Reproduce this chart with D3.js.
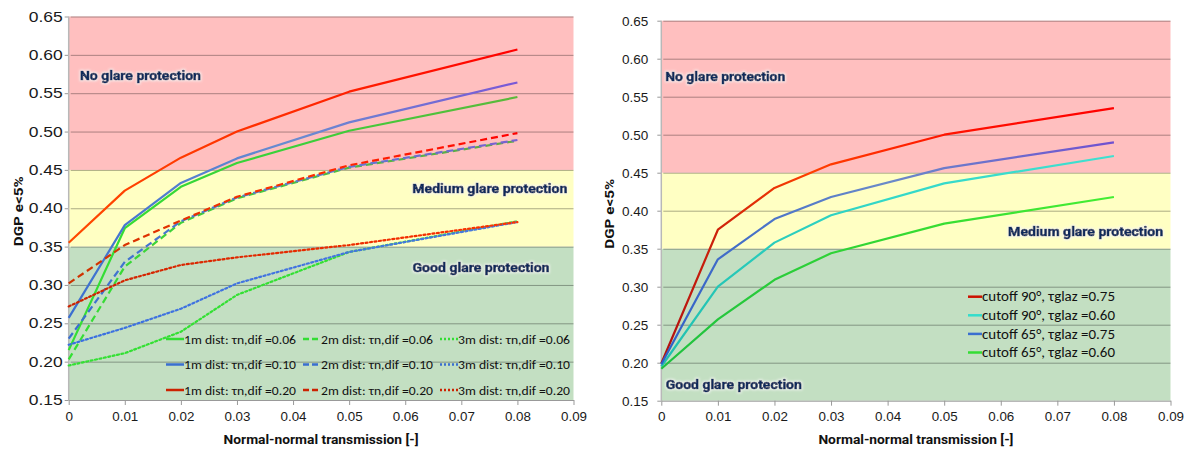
<!DOCTYPE html>
<html>
<head>
<meta charset="utf-8">
<script src="https://d3js.org/d3.v7.min.js"></script>
<style>
  body { margin: 0; background: #fff; }
  svg { display: block; font-family: Carlito, Lato, "Liberation Sans", sans-serif; }
  .tick text { fill: #1a1a1a; }
  .bold { font-family: Roboto, "Liberation Sans", sans-serif; font-weight: bold; }
</style>
</head>
<body>
<svg id="chart" width="1188" height="450"></svg>
<script>
// x values shared by every series
const xValues = [0, 0.01, 0.02, 0.03, 0.05, 0.08];
const xTicks = [0, 0.01, 0.02, 0.03, 0.04, 0.05, 0.06, 0.07, 0.08, 0.09];
const yTicks = [0.15, 0.20, 0.25, 0.30, 0.35, 0.40, 0.45, 0.50, 0.55, 0.60, 0.65];

// zones: bottom edge / top edge
const zoneBounds = [0.15, 0.35, 0.45, 0.65];
const zoneNames = ["Good glare protection", "Medium glare protection", "No glare protection"];

// left chart: distance / tau n,dif
const leftNames = [
  "1m dist: τn,dif =0.06", "2m dist: τn,dif =0.06", "3m dist: τn,dif =0.06",
  "1m dist: τn,dif =0.10", "2m dist: τn,dif =0.10", "3m dist: τn,dif =0.10",
  "1m dist: τn,dif =0.20", "2m dist: τn,dif =0.20", "3m dist: τn,dif =0.20"
];
const dist1m_006 = [0.215, 0.374, 0.428, 0.459, 0.501, 0.545];
const dist2m_006 = [0.203, 0.324, 0.381, 0.413, 0.453, 0.488];
const dist3m_006 = [0.195, 0.211, 0.239, 0.287, 0.343, 0.383];
const dist1m_010 = [0.257, 0.378, 0.433, 0.465, 0.512, 0.564];
const dist2m_010 = [0.230, 0.330, 0.383, 0.414, 0.454, 0.489];
const dist3m_010 = [0.222, 0.244, 0.269, 0.302, 0.343, 0.382];
const dist1m_020 = [0.355, 0.423, 0.466, 0.500, 0.552, 0.607];
const dist2m_020 = [0.302, 0.352, 0.384, 0.415, 0.456, 0.498];
const dist3m_020 = [0.272, 0.306, 0.326, 0.336, 0.352, 0.382];

// right chart: cutoff angle / tau glazing
const rightNames = [
  "cutoff 90°, τglaz =0.75", "cutoff 90°, τglaz =0.60",
  "cutoff 65°, τglaz =0.75", "cutoff 65°, τglaz =0.60"
];
const cut90_075 = [0.199, 0.375, 0.430, 0.461, 0.500, 0.535];
const cut90_060 = [0.195, 0.300, 0.358, 0.394, 0.436, 0.472];
const cut65_075 = [0.198, 0.336, 0.389, 0.418, 0.456, 0.490];
const cut65_060 = [0.192, 0.257, 0.309, 0.344, 0.383, 0.418];

const svg = d3.select("#chart");
const defs = svg.append("defs");

// soft light glow behind the zone labels
const glow = defs.append("filter").attr("id", "glow")
  .attr("x", "-10%").attr("y", "-40%").attr("width", "120%").attr("height", "180%");
glow.append("feMorphology").attr("in", "SourceAlpha").attr("operator", "dilate").attr("radius", 1).attr("result", "d");
glow.append("feGaussianBlur").attr("in", "d").attr("stdDeviation", 1.1).attr("result", "b");
glow.append("feFlood").attr("flood-color", "#f4f4f4").attr("flood-opacity", 0.8);
glow.append("feComposite").attr("in2", "b").attr("operator", "in").attr("result", "g");
const gm = glow.append("feMerge");
gm.append("feMergeNode").attr("in", "g");
gm.append("feMergeNode").attr("in", "SourceGraphic");

const zoneFill = ["#c3dfc2", "#ffffc3", "#ffbfbf"];
const dashes = { solid: null, dash: "7 4", dot: "2 2.5" };

// the reference text is a bit stretched sideways, so squeeze/stretch to width
function fit(sel, w) {
  sel.attr("textLength", w).attr("lengthAdjust", "spacingAndGlyphs");
}

function drawChart(cfg) {
  const x = d3.scaleLinear().domain([0, 0.09]).range([cfg.left, cfg.right]);
  const y = d3.scaleLinear().domain([0.15, 0.65]).range([cfg.bottom, cfg.top]);
  const g = svg.append("g");

  // zones
  g.selectAll("rect.zone").data(d3.range(3)).join("rect")
    .attr("x", x(0)).attr("width", x(0.09) - x(0))
    .attr("y", i => y(zoneBounds[i + 1]))
    .attr("height", i => y(zoneBounds[i]) - y(zoneBounds[i + 1]))
    .attr("fill", i => zoneFill[i]);

  // gridlines + y axis
  const yAxis = g.append("g").attr("transform", `translate(${x(0)},0)`)
    .call(d3.axisLeft(y).tickValues(yTicks).tickFormat(d3.format(".2f"))
      .tickSizeInner(-(x(0.09) - x(0))).tickSizeOuter(0).tickPadding(cfg.yPad));
  yAxis.select(".domain").remove();
  yAxis.selectAll(".tick line").attr("stroke", "#000").attr("stroke-opacity", 0.33)
    .attr("x1", 2);
  yAxis.selectAll(".tick line").filter(d => d === 0.15).remove();
  yAxis.selectAll(".tick text").attr("font-size", cfg.yFont);
  if (cfg.yTickW) fit(yAxis.selectAll(".tick text"), cfg.yTickW);
  yAxis.selectAll(".tick").append("line").attr("x1", -4).attr("x2", 0)
    .attr("stroke", "#999");

  g.append("line").attr("x1", x(0)).attr("x2", x(0)).attr("y1", y(0.65)).attr("y2", y(0.15))
    .attr("stroke", "#b8b8b8").attr("stroke-width", 1.5);

  const xAxis = g.append("g").attr("transform", `translate(0,${y(0.15)})`)
    .call(d3.axisBottom(x).tickValues(xTicks).tickFormat(d => d === 0 ? "0" : d3.format(".2f")(d))
      .tickSizeInner(5).tickSizeOuter(0).tickPadding(6));
  xAxis.select(".domain").attr("stroke", "#999");
  xAxis.selectAll(".tick line").attr("stroke", "#999");
  xAxis.selectAll(".tick text").attr("font-size", 13.5);
  fit(xAxis.selectAll(".tick text").filter(d => d > 0), 26);

  // zone labels
  cfg.zoneLabels.forEach(z => {
    const t = g.append("text").attr("class", "bold").text(zoneNames[z.zone])
      .attr("x", x(z.x)).attr("y", y(z.y)).attr("dy", "0.35em")
      .attr("text-anchor", z.anchor || "start")
      .attr("font-size", 13.5)
      .attr("fill", "#112c5c").attr("stroke", "#112c5c").attr("stroke-width", 0.7)
      .attr("filter", "url(#glow)");
    fit(t, z.w);
  });

  // gradients + series
  const line = d3.line().x((d, i) => x(xValues[i])).y(d => y(d));
  cfg.series.forEach((s, k) => {
    const id = cfg.id + "grad" + k;
    const grad = defs.append("linearGradient").attr("id", id)
      .attr("gradientUnits", "userSpaceOnUse")
      .attr("x1", x(0)).attr("x2", x(0.08)).attr("y1", 0).attr("y2", 0);
    s.stops.forEach((c, j) => grad.append("stop")
      .attr("offset", j / (s.stops.length - 1)).attr("stop-color", c));
    g.append("path").datum(s.values)
      .attr("d", line).attr("fill", "none")
      .attr("stroke", `url(#${id})`).attr("stroke-width", cfg.lineW)
      .attr("stroke-dasharray", dashes[s.style])
      .attr("stroke-linecap", s.style === "dot" ? "round" : "butt")
      .attr("stroke-linejoin", "round");
  });

  // legend
  const lg = g.append("g");
  cfg.series.forEach((s, k) => {
    const p = cfg.legendPos(k);
    lg.append("line").attr("x1", p[0]).attr("x2", p[0] + cfg.sampleW)
      .attr("y1", p[1]).attr("y2", p[1])
      .attr("stroke", s.key).attr("stroke-width", 2.5)
      .attr("stroke-dasharray", s.style === "dash" ? "6 3" : s.style === "dot" ? "2 2" : null);
    const t = lg.append("text").text(cfg.names[k])
      .attr("x", p[0] + cfg.sampleW).attr("y", p[1]).attr("dy", "0.35em")
      .attr("font-size", cfg.legendFont).attr("fill", "#111");
    fit(t, cfg.legendW);
  });

  // axis titles
  const xt = g.append("text").attr("class", "bold").text("Normal-normal transmission [-]")
    .attr("x", (cfg.left + cfg.right) / 2).attr("y", 444)
    .attr("text-anchor", "middle").attr("font-size", 13).attr("fill", "#111");
  fit(xt, 195);
  const yt = g.append("text").attr("class", "bold").text("DGP e<5%")
    .attr("transform", `translate(${cfg.yTitleX},${(cfg.top + cfg.bottom) / 2 + 3}) rotate(-90)`)
    .attr("text-anchor", "middle").attr("font-size", 13).attr("fill", "#111");
  fit(yt, 70);
}

drawChart({
  id: "L", left: 68.7, right: 573.5, top: 16.5, bottom: 400,
  yPad: 6, yFont: 14.5, yTickW: 34, yTitleX: 23, lineW: 2.2,
  legendFont: 13, legendW: 112, sampleW: 18,
  names: leftNames,
  legendPos: k => [166 + (k % 3) * 137, 339 + Math.floor(k / 3) * 25.5],
  zoneLabels: [
    { zone: 2, x: 0.002, y: 0.574, w: 121 },
    { zone: 1, x: 0.0889, y: 0.4254, anchor: "end", w: 155 },
    { zone: 0, x: 0.0613, y: 0.323, w: 137 }
  ],
  series: [
    { values: dist1m_006, style: "solid", key: "#33dd33", stops: ["#33e033", "#3ad03a", "#5cb83c"] },
    { values: dist2m_006, style: "dash", key: "#33dd33", stops: ["#33e033", "#4cc040", "#60a848"] },
    { values: dist3m_006, style: "dot", key: "#33dd33", stops: ["#33e033", "#33e033"] },
    { values: dist1m_010, style: "solid", key: "#3a6fd0", stops: ["#3a6fd0", "#6a8cd0", "#7a58d6"] },
    { values: dist2m_010, style: "dash", key: "#3a6fd0", stops: ["#3a6fd0", "#5a80d0", "#7a60d0"] },
    { values: dist3m_010, style: "dot", key: "#3a6fd0", stops: ["#3a70e0", "#4a78e0"] },
    { values: dist1m_020, style: "solid", key: "#cc2200", stops: ["#ff4a00", "#ff2a00", "#ff0000"] },
    { values: dist2m_020, style: "dash", key: "#cc2200", stops: ["#cc3300", "#ff3000", "#ff0000"] },
    { values: dist3m_020, style: "dot", key: "#cc2200", stops: ["#cc2200", "#ff3300"] }
  ]
});

drawChart({
  id: "R", left: 661.3, right: 1170.5, top: 20.7, bottom: 400.7,
  yPad: 13, yFont: 13.5, yTitleX: 614, lineW: 2.2,
  legendFont: 13.5, legendW: 133, sampleW: 14,
  names: rightNames,
  legendPos: k => [968, 296.7 + k * 18.6],
  zoneLabels: [
    { zone: 2, x: 0.0007, y: 0.577, w: 120 },
    { zone: 1, x: 0.0613, y: 0.3733, w: 155 },
    { zone: 0, x: 0.0008, y: 0.1716, w: 136 }
  ],
  series: [
    { values: cut90_075, style: "solid", key: "#cc1100", stops: ["#b01010", "#ff4000", "#ff1000", "#ff0000"] },
    { values: cut90_060, style: "solid", key: "#33ddcc", stops: ["#20c0b0", "#33d8c8", "#40e0d0"] },
    { values: cut65_075, style: "solid", key: "#3a6fd0", stops: ["#3060c8", "#6a8ac8", "#7050d0"] },
    { values: cut65_060, style: "solid", key: "#33dd33", stops: ["#20c040", "#33d833", "#44ee33"] }
  ]
});
</script>
</body>
</html>
